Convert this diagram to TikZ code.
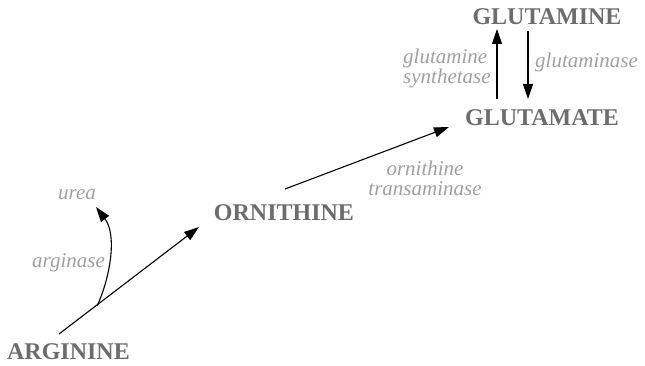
\documentclass[tikz,border=0pt]{standalone}
\usepackage{fontspec}
\setmainfont{Liberation Serif}
\usetikzlibrary{arrows.meta}
\definecolor{molgray}{RGB}{108,108,108}
\definecolor{enzgray}{RGB}{160,160,160}
\tikzset{
  mol/.style={anchor=base, inner sep=0pt, text=molgray,
    font=\fontsize{24}{26}\selectfont\bfseries},
  enz/.style={inner sep=0pt, text=enzgray,
    font=\fontsize{21}{20.5}\selectfont\itshape},
  rxn/.style={line width=1.1pt, -{Triangle[length=15pt,width=10pt]}},
}
\begin{document}
\begin{tikzpicture}[x=1pt,y=1pt]
\useasboundingbox (0,0) rectangle (645,366);

% metabolites
\node[mol] (arg) at (68.5,6.5) {ARGININE};
\node[mol] (orn) at (284,145) {ORNITHINE};
\node[mol] (glu) at (542,240) {GLUTAMATE};
\node[mol] (gln) at (547,341) {GLUTAMINE};

% enzymes and by-product (base = baseline of the last line)
\node[enz, anchor=base] (urea) at (77,166) {urea};
\node[enz, anchor=base] (argase) at (68.5,98) {arginase};
\node[enz, anchor=base, align=center] (oat) at (425,170) {ornithine\\transaminase};
\node[enz, anchor=base west, align=left] (gs) at (403,282) {glutamine\\synthetase};
\node[enz, anchor=base west] (gls) at (535,298) {glutaminase};

% arrow end points
\coordinate (argOut) at (59,32);
\coordinate (ornIn) at (199,139);
\coordinate (branch) at (97,60);
\coordinate (ureaIn) at (96,159);
\coordinate (ornOut) at (285,177);
\coordinate (gluIn) at (449,239);
\coordinate (gsFrom) at (497,267);
\coordinate (gsTo) at (497,337);
\coordinate (glsFrom) at (528,335);
\coordinate (glsTo) at (528,267);

% reactions
\draw[rxn] (argOut) -- (ornIn);
\draw[rxn] (branch) .. controls (109,85) and (118,130) .. (ureaIn);
\draw[rxn] (ornOut) -- (gluIn);
\draw[rxn] (gsFrom) -- (gsTo);
\draw[rxn] (glsFrom) -- (glsTo);
\end{tikzpicture}
\end{document}
